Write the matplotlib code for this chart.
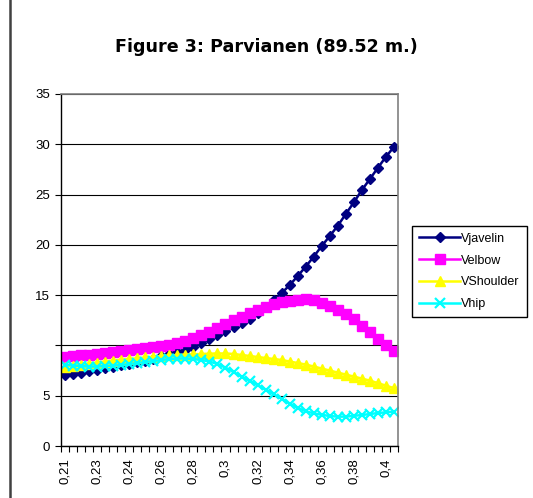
import numpy as np
import matplotlib
matplotlib.use('Agg')
import matplotlib.pyplot as plt
from matplotlib.lines import Line2D

plt.rcParams['font.family'] = ['Liberation Sans', 'DejaVu Sans']

# category labels shown every 4th point
tick_labels = ['0,21', '0,23', '0,24', '0,26', '0,28', '0,3',
               '0,32', '0,34', '0,36', '0,38', '0,4']
label_every = 4

vjavelin = [7.05, 7.15, 7.3, 7.45, 7.6, 7.75, 7.9, 8.05, 8.2, 8.35,
            8.5, 8.65, 8.9, 9.1, 9.3, 9.55, 9.85, 10.2, 10.6, 11.0,
            11.4, 11.8, 12.2, 12.65, 13.2, 13.8, 14.5, 15.2, 16.0, 16.9,
            17.84, 18.83, 19.89, 20.88, 21.91, 23.07, 24.23, 25.45, 26.55, 27.67,
            28.76, 29.75]
velbow = [8.85, 8.93, 9.0, 9.08, 9.15, 9.25, 9.35, 9.45, 9.55, 9.62,
          9.7, 9.8, 9.9, 10.0, 10.2, 10.45, 10.7, 11.0, 11.35, 11.7,
          12.1, 12.5, 12.85, 13.2, 13.55, 13.85, 14.1, 14.3, 14.45, 14.55,
          14.6, 14.5, 14.25, 13.92, 13.52, 13.1, 12.6, 11.95, 11.3, 10.65,
          10.05, 9.45]
vshoulder = [7.9, 8.0, 8.1, 8.2, 8.3, 8.4, 8.5, 8.58, 8.65, 8.72,
             8.8, 8.88, 8.95, 9.0, 9.05, 9.08, 9.12, 9.15, 9.18, 9.2,
             9.2, 9.15, 9.05, 8.95, 8.85, 8.75, 8.65, 8.55, 8.4, 8.25,
             8.1, 7.9, 7.7, 7.5, 7.3, 7.1, 6.9, 6.7, 6.5, 6.25,
             6.0, 5.75]
vhip = [8.1, 8.0, 7.95, 7.9, 7.9, 7.95, 8.0, 8.05, 8.15, 8.25,
        8.35, 8.45, 8.55, 8.65, 8.7, 8.7, 8.65, 8.55, 8.4, 8.15,
        7.8, 7.35, 6.9, 6.5, 6.05, 5.6, 5.15, 4.7, 4.2, 3.8,
        3.45, 3.25, 3.1, 2.98, 2.92, 2.92, 3.0, 3.08, 3.18, 3.28,
        3.35, 3.42]

series = ['Vjavelin', 'Velbow', 'VShoulder', 'Vhip']
colors = ['#000080', '#FF00FF', '#FFFF00', '#00FFFF']

x = np.arange(len(vjavelin))

fig = plt.figure(figsize=(5.33, 4.98), dpi=100)
W, H = 533, 498
ax = fig.add_axes([61 / W, 1 - 446 / H, 337 / W, 352 / H])

ax.plot(x, vjavelin, color=colors[0], lw=1.8, marker='D', ms=5.5, label=series[0])
ax.plot(x, velbow, color=colors[1], lw=1.8, marker='s', ms=7, label=series[1])
ax.plot(x, vshoulder, color=colors[2], lw=1.8, marker='^', ms=7.5, label=series[2])
ax.plot(x, vhip, color=colors[3], lw=1.8, marker='x', ms=7, mew=1.6, label=series[3])

ax.set_xlim(-0.5, len(x) - 0.5)
ax.set_ylim(0, 35)

# y axis: Excel dropped the "10" label
yt = np.arange(0, 36, 5)
ax.set_yticks(yt)
ax.set_yticklabels(['' if v == 10 else str(v) for v in yt], fontsize=9.5)
ax.yaxis.grid(True, color='black', lw=0.8)
ax.set_axisbelow(True)
ax.tick_params(axis='y', length=4, width=0.8, pad=4)

# x axis: tick marks between categories, labels every 4th category
ax.set_xticks(np.arange(-0.5, len(x), 1))
ax.set_xticklabels([])
ax.tick_params(axis='x', which='major', length=4, width=0.8)
ax.set_xticks(x[::label_every][:len(tick_labels)], minor=True)
ax.set_xticklabels(tick_labels, minor=True, rotation=90, fontsize=9.5)
ax.tick_params(axis='x', which='minor', length=0, pad=9)

for s in ['top', 'right']:
    ax.spines[s].set_color('#808080')
    ax.spines[s].set_linewidth(1.2)
for s in ['left', 'bottom']:
    ax.spines[s].set_color('black')
    ax.spines[s].set_linewidth(1.0)

fig.text(0.5, 1 - 47 / H, 'Figure 3: Parvianen (89.52 m.)', ha='center', va='center',
         fontsize=12.6, fontweight='bold', family='DejaVu Sans')

handles, labels = ax.get_legend_handles_labels()
leg = fig.legend(handles, labels, loc='upper left', bbox_to_anchor=(412 / W, 1 - 226 / H),
                 frameon=True, fancybox=False, edgecolor='black', framealpha=1,
                 fontsize=9, handlelength=3.3, handletextpad=0.1, labelspacing=0.78,
                 borderpad=0.55, borderaxespad=0)
leg.get_frame().set_linewidth(1.0)

# chart area border on the left
fig.add_artist(Line2D([10 / W, 10 / W], [0, 1], color='#404040', lw=1.8))

fig.savefig('out.png', dpi=100)
